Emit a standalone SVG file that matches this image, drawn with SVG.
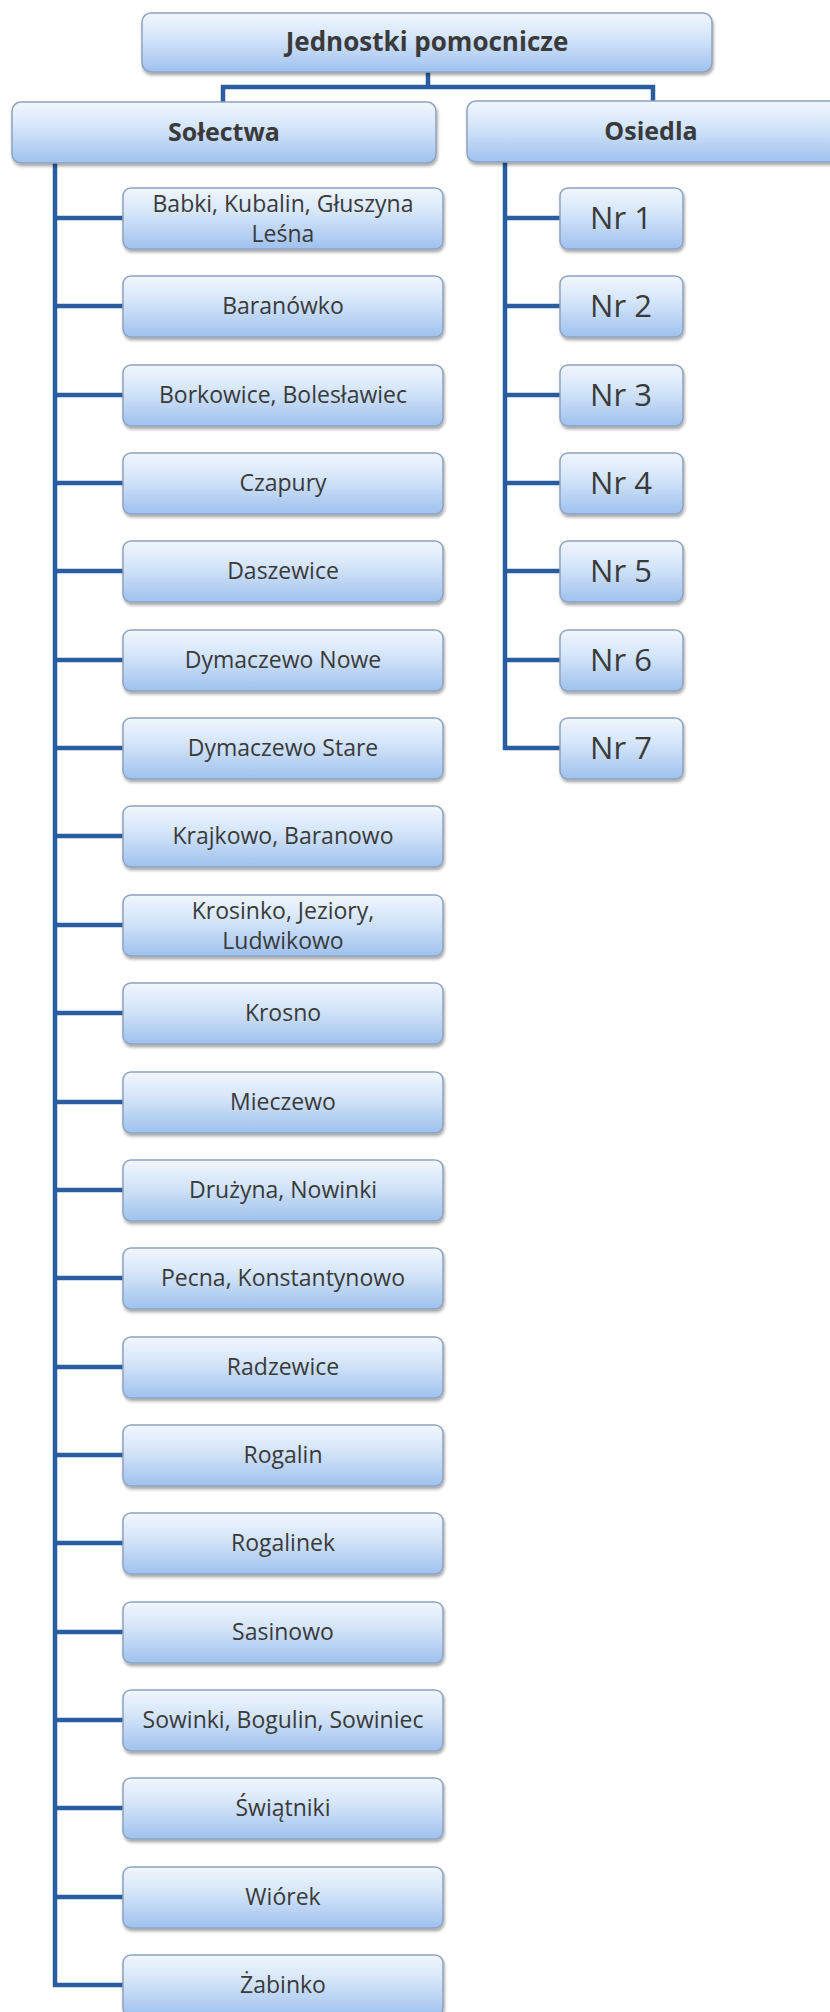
<svg xmlns="http://www.w3.org/2000/svg" width="830" height="2012" viewBox="0 0 830 2012">
<defs>
<linearGradient id="g" x1="0" y1="0" x2="0" y2="1">
<stop offset="0" stop-color="#f0f6fd"/>
<stop offset="0.4" stop-color="#d6e6f9"/>
<stop offset="1" stop-color="#9fc1ee"/>
</linearGradient>
<filter id="sh" x="-5%" y="-10%" width="115%" height="140%">
<feDropShadow dx="1" dy="2.5" stdDeviation="1.5" flood-color="#000" flood-opacity="0.35"/>
</filter>
</defs>
<style>
.b{fill:url(#g);stroke:#8ea3c0;stroke-width:1.5;filter:url(#sh)}
.t{font-family:"Open Sans","Noto Sans",sans-serif;font-size:23px;fill:#3a3a3a;text-anchor:middle}
.h{font-family:"Open Sans","Noto Sans",sans-serif;font-size:25px;font-weight:bold;fill:#3a3a3a;text-anchor:middle}
.n{font-family:"Open Sans","Noto Sans",sans-serif;font-size:31px;fill:#3a3a3a;text-anchor:middle}
.c{fill:none;stroke:#2a5d9f;stroke-width:4.5}
</style>
<rect width="830" height="2012" fill="#fff"/>
<g id="connectors" class="c">
<path d="M428 72V87M221 87H655M223 85V102M653 85V101"/>
<path d="M55 163V1987M53 1985H123"/>
<path d="M55 218H123M55 306H123M55 395H123M55 483H123M55 571H123M55 660H123M55 748H123M55 836H123M55 925H123M55 1013H123M55 1102H123M55 1190H123M55 1278H123M55 1367H123M55 1455H123M55 1543H123M55 1632H123M55 1720H123M55 1808H123M55 1897H123"/>
<path d="M505 162V750M503 748H560"/>
<path d="M505 218H560M505 306H560M505 395H560M505 483H560M505 571H560M505 660H560"/>
</g>
<g id="root"><rect class="b" x="142" y="13" width="570" height="59" rx="9"/><text class="h" x="427" y="51" style="font-size:26px">Jednostki pomocnicze</text></g>
<g id="solectwa"><rect class="b" x="12" y="102" width="424" height="61" rx="9"/><text class="h" x="224" y="141">Sołectwa</text></g>
<g id="osiedla"><rect class="b" x="467" y="101" width="380" height="61" rx="9"/><text class="h" x="651" y="140">Osiedla</text></g>
<g id="s1"><rect class="b" x="123" y="188" width="320" height="61" rx="8"/><text class="t" x="283" y="212">Babki, Kubalin, Głuszyna</text><text class="t" x="283" y="242">Leśna</text></g>
<g id="s2"><rect class="b" x="123" y="276" width="320" height="61" rx="8"/><text class="t" x="283" y="314">Baranówko</text></g>
<g id="s3"><rect class="b" x="123" y="365" width="320" height="61" rx="8"/><text class="t" x="283" y="403">Borkowice, Bolesławiec</text></g>
<g id="s4"><rect class="b" x="123" y="453" width="320" height="61" rx="8"/><text class="t" x="283" y="491">Czapury</text></g>
<g id="s5"><rect class="b" x="123" y="541" width="320" height="61" rx="8"/><text class="t" x="283" y="579">Daszewice</text></g>
<g id="s6"><rect class="b" x="123" y="630" width="320" height="61" rx="8"/><text class="t" x="283" y="668">Dymaczewo Nowe</text></g>
<g id="s7"><rect class="b" x="123" y="718" width="320" height="61" rx="8"/><text class="t" x="283" y="756">Dymaczewo Stare</text></g>
<g id="s8"><rect class="b" x="123" y="806" width="320" height="61" rx="8"/><text class="t" x="283" y="844">Krajkowo, Baranowo</text></g>
<g id="s9"><rect class="b" x="123" y="895" width="320" height="61" rx="8"/><text class="t" x="283" y="919">Krosinko, Jeziory,</text><text class="t" x="283" y="949">Ludwikowo</text></g>
<g id="s10"><rect class="b" x="123" y="983" width="320" height="61" rx="8"/><text class="t" x="283" y="1021">Krosno</text></g>
<g id="s11"><rect class="b" x="123" y="1072" width="320" height="61" rx="8"/><text class="t" x="283" y="1110">Mieczewo</text></g>
<g id="s12"><rect class="b" x="123" y="1160" width="320" height="61" rx="8"/><text class="t" x="283" y="1198">Drużyna, Nowinki</text></g>
<g id="s13"><rect class="b" x="123" y="1248" width="320" height="61" rx="8"/><text class="t" x="283" y="1286">Pecna, Konstantynowo</text></g>
<g id="s14"><rect class="b" x="123" y="1337" width="320" height="61" rx="8"/><text class="t" x="283" y="1375">Radzewice</text></g>
<g id="s15"><rect class="b" x="123" y="1425" width="320" height="61" rx="8"/><text class="t" x="283" y="1463">Rogalin</text></g>
<g id="s16"><rect class="b" x="123" y="1513" width="320" height="61" rx="8"/><text class="t" x="283" y="1551">Rogalinek</text></g>
<g id="s17"><rect class="b" x="123" y="1602" width="320" height="61" rx="8"/><text class="t" x="283" y="1640">Sasinowo</text></g>
<g id="s18"><rect class="b" x="123" y="1690" width="320" height="61" rx="8"/><text class="t" x="283" y="1728">Sowinki, Bogulin, Sowiniec</text></g>
<g id="s19"><rect class="b" x="123" y="1778" width="320" height="61" rx="8"/><text class="t" x="283" y="1816">Świątniki</text></g>
<g id="s20"><rect class="b" x="123" y="1867" width="320" height="61" rx="8"/><text class="t" x="283" y="1905">Wiórek</text></g>
<g id="s21"><rect class="b" x="123" y="1955" width="320" height="61" rx="8"/><text class="t" x="283" y="1993">Żabinko</text></g>
<g id="o1"><rect class="b" x="560" y="188" width="123" height="61" rx="8"/><text class="n" x="621" y="229">Nr 1</text></g>
<g id="o2"><rect class="b" x="560" y="276" width="123" height="61" rx="8"/><text class="n" x="621" y="317">Nr 2</text></g>
<g id="o3"><rect class="b" x="560" y="365" width="123" height="61" rx="8"/><text class="n" x="621" y="406">Nr 3</text></g>
<g id="o4"><rect class="b" x="560" y="453" width="123" height="61" rx="8"/><text class="n" x="621" y="494">Nr 4</text></g>
<g id="o5"><rect class="b" x="560" y="541" width="123" height="61" rx="8"/><text class="n" x="621" y="582">Nr 5</text></g>
<g id="o6"><rect class="b" x="560" y="630" width="123" height="61" rx="8"/><text class="n" x="621" y="671">Nr 6</text></g>
<g id="o7"><rect class="b" x="560" y="718" width="123" height="61" rx="8"/><text class="n" x="621" y="759">Nr 7</text></g>
</svg>
